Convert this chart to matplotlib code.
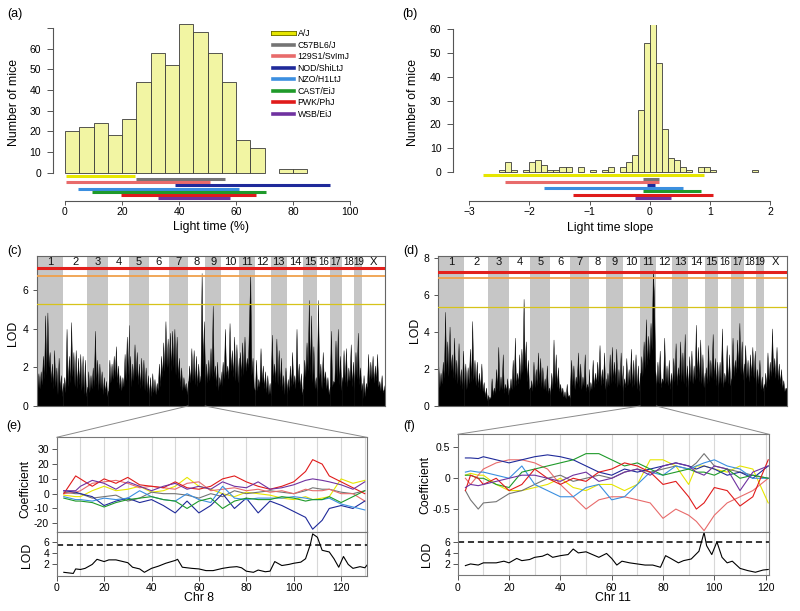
import numpy as np
import matplotlib
matplotlib.use('Agg')
import matplotlib.pyplot as plt
from matplotlib.lines import Line2D
from matplotlib.patches import ConnectionPatch
import matplotlib.patheffects as pe
import matplotlib.transforms as mtrans

plt.rcParams['font.family'] = ['Liberation Sans', 'DejaVu Sans']

# ---------------- data ----------------
strains = ['A/J', 'C57BL6/J', '129S1/SvImJ', 'NOD/ShiLtJ', 'NZO/H1LtJ', 'CAST/EiJ', 'PWK/PhJ', 'WSB/EiJ']
strain_colors = ['#e6e600', '#747474', '#e86b6b', '#1f2a9a', '#3b8fe0', '#1f9a2a', '#e01b1b', '#6f32a0']

# (a) light time histogram, bins of 5 %
a_bin_left = [0, 5, 10, 15, 20, 25, 30, 35, 40, 45, 50, 55, 60, 65, 70, 75, 80]
a_counts = [20, 22, 24, 18, 26, 44, 58, 52, 72, 68, 58, 44, 16, 12, 0, 2, 2]
a_strain_lo = [0.3, 25.0, 0.4, 38.6, 4.6, 9.6, 19.6, 32.5]
a_strain_hi = [24.6, 56.0, 50.7, 93.0, 61.1, 70.4, 66.9, 57.8]

# (b) light time slope histogram, bins of 0.1
b_bin_left = [-2.5, -2.4, -2.3, -2.2, -2.1, -2.0, -1.9, -1.8, -1.7, -1.6, -1.5, -1.4, -1.3, -1.2,
              -1.1, -1.0, -0.9, -0.8, -0.7, -0.6, -0.5, -0.4, -0.3, -0.2, -0.1, 0.0, 0.1, 0.2,
              0.3, 0.4, 0.5, 0.6, 0.7, 0.8, 0.9, 1.0, 1.1, 1.2, 1.3, 1.4, 1.5, 1.6, 1.7]
b_counts = [1, 4, 1, 0, 1, 4, 5, 3, 1, 1, 2, 2, 0, 2,
            0, 1, 0, 1, 2, 0, 2, 4, 7, 26, 54, 62, 46, 18,
            6, 5, 2, 1, 0, 2, 2, 1, 0, 0, 0, 0, 0, 0, 1]
b_strain_lo = [-2.78, -0.11, -2.40, -0.05, -1.75, -0.11, -1.28, -0.25]
b_strain_hi = [0.91, 0.15, 0.15, 0.08, 0.56, 0.85, 1.05, 0.35]

# chromosomes (Mb)
chr_names = ['1', '2', '3', '4', '5', '6', '7', '8', '9', '10', '11', '12', '13', '14', '15',
             '16', '17', '18', '19', 'X']
chr_len = [195.5, 182.1, 160.0, 156.5, 151.8, 149.7, 145.4, 129.4, 124.6, 130.7, 122.1, 120.1,
           120.4, 124.9, 104.0, 98.2, 95.0, 90.7, 61.4, 171.0]

# (c) genome scan for light time (LOD along each chromosome)
c_lod = [
    [0.8, 1.7, 0.9, 1.8, 1.1, 2.6, 1.4, 4.7, 1.6, 4.85, 2.0, 2.8, 1.2, 2.2, 0.9, 2.9, 1.0, 2.0, 0.6, 2.5, 0.8, 1.6, 0.5, 1.2],
    [0.6, 1.5, 0.7, 4.0, 1.0, 2.6, 1.2, 4.35, 1.5, 2.8, 1.0, 2.9, 0.9, 2.5, 1.1, 2.7, 0.8, 2.6, 0.6, 2.4, 0.5, 1.0],
    [0.5, 1.8, 0.7, 1.6, 0.9, 2.0, 1.0, 3.9, 1.1, 2.4, 0.8, 2.2, 0.9, 1.8, 0.6, 1.5, 0.7, 1.3, 0.5, 0.8],
    [0.7, 2.4, 1.2, 2.2, 1.4, 2.6, 1.5, 3.1, 1.2, 2.1, 0.9, 1.6, 0.8, 1.5, 1.0, 2.7, 1.3, 3.6, 1.6, 4.2],
    [1.2, 2.6, 1.0, 2.2, 1.3, 3.2, 1.5, 2.8, 1.1, 2.2, 0.9, 2.5, 1.0, 2.4, 0.8, 2.0, 0.7, 1.6, 0.5],
    [0.6, 1.5, 0.5, 1.7, 0.7, 1.4, 0.6, 1.2, 0.8, 2.2, 1.0, 2.6, 1.5, 3.3, 1.8, 4.4, 2.0, 3.5, 1.6],
    [2.2, 3.8, 1.8, 3.9, 2.0, 4.0, 1.6, 3.6, 1.4, 2.5, 1.0, 2.0, 0.8, 1.5, 0.9, 1.2, 0.6, 1.3],
    [0.9, 2.1, 1.2, 3.0, 1.3, 2.9, 1.1, 2.6, 1.0, 2.2, 1.2, 1.6, 6.9, 2.0, 4.4, 1.5],
    [1.0, 2.2, 1.2, 2.4, 1.3, 3.0, 1.5, 5.2, 1.4, 2.1, 1.0, 2.3, 0.8, 1.5, 1.1, 1.8],
    [1.0, 2.3, 1.4, 4.0, 1.6, 2.1, 1.4, 4.3, 1.8, 2.9, 1.5, 3.6, 1.3, 3.2, 1.2, 2.5],
    [1.2, 2.8, 1.5, 3.3, 1.6, 3.6, 1.8, 2.5, 2.0, 4.6, 6.8, 1.6, 2.5, 1.0, 0.8],
    [0.5, 2.4, 0.8, 1.4, 1.0, 3.0, 1.2, 2.1, 0.9, 1.8, 0.7, 1.6, 0.6, 1.2, 0.5],
    [1.0, 3.7, 1.3, 2.2, 1.2, 3.5, 1.1, 2.9, 1.0, 2.5, 0.8, 1.6, 0.6, 2.0, 0.9],
    [0.6, 1.4, 0.8, 2.1, 1.0, 2.8, 1.1, 1.6, 0.9, 4.0, 1.2, 2.2, 0.9, 1.7, 0.6, 0.9],
    [1.2, 2.4, 1.5, 3.3, 1.8, 5.5, 1.6, 4.7, 1.2, 3.1, 0.9, 1.5, 0.7],
    [1.2, 5.5, 1.4, 2.2, 0.9, 2.8, 1.2, 1.8, 0.9, 1.5, 0.6, 1.0],
    [0.9, 3.9, 1.0, 1.3, 1.2, 3.4, 1.4, 4.0, 1.1, 2.6, 0.8, 1.5],
    [1.0, 2.9, 1.2, 3.0, 1.0, 2.0, 1.3, 3.2, 1.0, 2.3, 0.8],
    [1.2, 2.8, 1.4, 3.8, 1.1, 2.0, 0.8, 1.2],
    [0.3, 1.6, 0.5, 1.2, 0.9, 2.7, 1.2, 2.3, 1.4, 2.6, 1.2, 2.1, 1.3, 2.7, 1.0, 1.3, 0.8, 1.6, 0.7, 0.9, 1.2],
]
c_thresholds = [7.15, 6.75, 5.27]

# (d) genome scan for light time slope
d_lod = [
    [2.2, 1.0, 1.8, 1.2, 2.4, 1.5, 5.1, 1.8, 3.5, 1.6, 4.3, 1.9, 2.8, 1.5, 3.7, 1.4, 2.5, 1.2, 3.4, 1.1, 2.0, 0.9, 3.0, 1.0],
    [1.0, 2.3, 0.9, 2.1, 1.2, 3.1, 1.3, 4.6, 1.4, 2.5, 1.1, 2.4, 1.0, 1.8, 0.9, 2.3, 0.8, 1.3, 0.5, 1.0, 0.3, 0.6],
    [0.3, 0.5, 0.4, 1.5, 0.6, 1.0, 0.7, 2.0, 0.9, 3.2, 0.8, 1.6, 0.9, 2.8, 0.7, 1.2, 0.8, 1.5, 0.6, 1.0],
    [0.8, 1.5, 0.9, 2.5, 1.0, 3.7, 1.1, 1.8, 1.2, 2.8, 1.4, 3.1, 1.8, 5.8, 2.0, 3.5, 1.3, 2.5, 0.9, 1.0],
    [0.9, 1.4, 0.8, 2.4, 1.0, 2.0, 1.1, 2.9, 1.2, 2.6, 1.0, 2.1, 0.9, 1.5, 0.8, 2.2, 0.7, 1.0, 0.6],
    [0.8, 1.8, 0.9, 3.6, 1.2, 2.8, 1.0, 2.1, 0.8, 1.2, 0.7, 1.0, 0.5, 0.8, 0.4, 1.2, 0.5, 0.6, 0.4],
    [1.0, 2.5, 1.1, 2.2, 0.9, 1.6, 1.2, 2.9, 1.0, 2.3, 0.9, 1.6, 1.1, 2.8, 0.8, 1.2, 0.9, 2.0],
    [0.7, 1.3, 0.9, 2.5, 1.0, 1.8, 1.2, 2.4, 1.3, 3.3, 1.1, 2.0, 1.2, 2.9, 0.9, 1.5],
    [0.9, 1.8, 1.1, 2.8, 1.2, 3.2, 1.3, 2.4, 1.2, 3.1, 1.0, 2.0, 1.1, 2.9, 1.0, 2.2],
    [0.8, 1.5, 1.0, 2.6, 1.1, 2.0, 1.2, 3.1, 1.0, 2.5, 1.1, 2.8, 0.9, 2.2, 0.8, 1.8],
    [1.4, 2.7, 1.6, 3.5, 2.0, 4.7, 2.2, 3.8, 2.5, 4.5, 3.0, 7.35, 5.9, 2.0, 1.2],
    [1.0, 2.4, 1.2, 3.0, 1.0, 1.5, 1.3, 3.7, 1.2, 2.2, 1.1, 2.5, 0.9, 1.8, 1.0],
    [1.2, 2.6, 1.3, 3.4, 1.1, 2.1, 1.4, 3.5, 1.3, 2.9, 1.2, 3.9, 1.0, 2.2, 0.9],
    [1.1, 2.7, 1.3, 3.0, 1.2, 2.2, 1.4, 4.4, 1.5, 3.2, 1.3, 3.6, 1.2, 2.8, 1.0, 1.8],
    [1.0, 2.1, 1.2, 3.3, 1.3, 2.5, 1.5, 3.9, 1.4, 2.6, 1.1, 2.4, 1.0],
    [1.1, 2.4, 1.2, 4.2, 1.0, 1.8, 1.3, 3.3, 1.2, 2.8, 1.1, 1.5],
    [1.5, 3.7, 1.6, 2.5, 1.8, 3.6, 2.0, 4.5, 1.7, 3.5, 1.4, 2.3],
    [1.4, 3.3, 1.5, 2.5, 1.3, 2.8, 1.6, 3.2, 1.5, 3.0, 1.2],
    [1.0, 2.0, 1.2, 2.5, 0.9, 1.6, 0.8, 1.2],
    [0.8, 1.8, 1.0, 2.9, 1.4, 2.4, 1.6, 4.2, 1.8, 2.6, 1.5, 3.2, 1.4, 2.3, 1.2, 2.0, 1.0, 1.4, 0.8, 1.0, 0.9],
]
d_thresholds = [7.26, 6.92, 5.38]

# (e) chr 8 founder coefficients (order as strains)
e_pos = [3, 8, 10, 15, 20, 25, 30, 35, 40, 45, 50, 55, 60, 65, 70, 75, 80, 85, 90, 95, 100,
         105, 108, 112, 115, 120, 125, 130]
e_coef = [
    [-1, -2, -2, 2, 5, 2, 3, 5, 1, 2, 5, 11, 5, 3, 0, -2, 1, 0, -1, -3, -4, -2, -4, -3, -2, 10, 7, 9],
    [1, 0, 0, -3, -2, -1, -5, -3, 1, 0, 0, -1, -3, 0, -2, 2, 0, 1, 2, 1, 0, 2, 4, 3, 3, 1, 0, 2],
    [0, 1, 2, 7, 8, 9, 7, 4, 5, 4, 3, 7, 8, 2, 3, 4, 2, 3, 1, 2, 0, 3, 2, 2, 3, 0, 0, -5],
    [2, 1, 0, -2, -8, -5, -3, -6, -4, -8, -13, -5, -13, -8, 0, -10, -3, -13, -5, -8, -12, -16, -24, -18, -10, -8, -10, -5],
    [-2, -4, -4, -5, -3, -4, -3, 2, -2, -4, -5, 0, -4, -6, 5, -3, -4, -3, -3, -3, -2, -3, -4, -4, -3, -7, -9, -11],
    [-3, -5, -5, -6, -9, -6, -4, -3, -2, -4, -5, -10, -5, -3, -10, -5, -3, -4, -4, -2, -3, -5, -4, -4, -2, -6, -2, 2],
    [0, 12, 10, 5, 10, 7, 11, 6, 5, 4, 8, 4, 3, 5, 10, 12, 8, 5, 3, 5, 8, 15, 23, 20, 12, 8, 4, 0],
    [2, 2, 5, 9, 7, 3, 8, 5, 2, 5, 7, 3, 5, 3, 8, 5, 4, 8, 3, 4, 6, 9, 10, 9, 8, 6, 3, 8],
]
e_lod_pos = [3, 5, 7, 8, 10, 12, 15, 17, 20, 22, 25, 27, 30, 32, 35, 37, 40, 43, 46, 50, 51, 53,
             57, 60, 63, 66, 70, 73, 76, 78, 80, 83, 85, 88, 90, 92, 95, 98, 100, 103, 105, 107,
             108, 110, 112, 115, 117, 119, 121, 123, 125, 128, 130, 131]
e_lod = [0.6, 0.5, 0.4, 1.2, 1.1, 1.3, 2.0, 2.9, 2.5, 2.8, 2.8, 2.6, 2.3, 1.5, 1.2, 0.6, 1.3, 1.7,
         2.2, 2.7, 2.9, 1.5, 1.3, 1.2, 0.9, 0.9, 1.3, 1.5, 1.6, 1.4, 0.8, 0.6, 1.0, 0.7, 0.8, 2.5,
         1.8, 2.0, 2.2, 2.4, 3.0, 5.5, 7.4, 6.8, 4.5, 4.2, 3.0, 1.5, 3.4, 2.0, 1.3, 1.6, 1.4, 1.9]
e_threshold = 5.5

# (f) chr 11 founder coefficients
f_pos = [3, 5, 8, 10, 15, 20, 25, 30, 35, 40, 45, 50, 55, 60, 65, 70, 75, 80, 85, 90, 93, 96,
         100, 105, 110, 115, 121]
f_coef = [
    [0.05, 0.08, 0.05, 0.05, -0.1, -0.2, -0.2, -0.15, -0.1, 0.0, -0.15, -0.2, -0.1, -0.1, -0.2, -0.1, 0.3, 0.3, 0.2, -0.1, 0.2, 0.2, 0.15, 0.1, 0.2, 0.15, -0.4],
    [-0.2, -0.35, -0.5, -0.4, -0.38, -0.25, -0.2, -0.1, 0.0, 0.05, -0.05, 0.0, 0.05, 0.0, 0.1, 0.15, 0.1, 0.15, 0.2, 0.15, 0.25, 0.4, 0.2, 0.15, 0.1, 0.05, 0.0],
    [0.0, -0.1, 0.05, 0.15, 0.25, 0.3, 0.3, 0.25, 0.15, -0.1, -0.3, -0.5, -0.35, -0.3, -0.3, -0.35, -0.4, -0.65, -0.5, -0.6, -0.7, -0.85, -0.6, -0.4, -0.3, -0.2, 0.0],
    [0.33, 0.33, 0.32, 0.35, 0.3, 0.25, 0.3, 0.35, 0.38, 0.35, 0.3, 0.2, 0.1, 0.05, 0.15, 0.1, 0.15, 0.2, 0.25, 0.2, 0.15, 0.2, 0.15, 0.05, 0.1, 0.0, 0.2],
    [0.1, 0.12, 0.1, 0.1, 0.05, 0.0, 0.2, -0.1, -0.2, -0.3, -0.3, -0.15, -0.1, -0.35, -0.3, -0.1, 0.1, 0.05, 0.2, 0.15, 0.2, 0.25, 0.3, 0.2, 0.15, 0.0, 0.0],
    [0.05, 0.05, 0.0, 0.0, -0.1, -0.15, 0.1, 0.15, 0.2, 0.25, 0.3, 0.4, 0.4, 0.3, 0.2, 0.25, 0.15, 0.05, 0.1, 0.15, 0.1, 0.1, 0.05, 0.15, 0.0, 0.05, 0.0],
    [-0.2, 0.05, 0.0, -0.1, 0.0, -0.2, -0.1, 0.15, 0.0, -0.1, 0.0, -0.05, 0.1, 0.15, 0.25, 0.2, 0.1, -0.1, -0.05, -0.3, -0.5, -0.4, -0.15, -0.2, -0.45, -0.3, 0.3],
    [-0.15, -0.1, -0.12, -0.1, -0.05, 0.0, 0.05, 0.05, 0.0, -0.05, 0.05, 0.1, -0.05, 0.0, 0.1, 0.15, 0.05, 0.2, 0.25, 0.2, 0.1, 0.05, 0.2, 0.15, -0.2, 0.1, 0.2],
]
f_lod_pos = [3, 5, 8, 10, 15, 18, 20, 23, 25, 28, 30, 33, 35, 37, 40, 43, 45, 47, 50, 52, 55, 58,
             60, 62, 64, 67, 70, 73, 76, 79, 81, 83, 86, 88, 91, 94, 96, 97, 99, 101, 103, 105,
             107, 110, 113, 116, 119, 121]
f_lod = [1.7, 2.0, 1.8, 2.2, 2.2, 2.5, 2.2, 3.0, 2.6, 2.8, 3.2, 3.4, 3.8, 3.2, 3.5, 3.7, 4.7, 4.0,
         4.2, 3.8, 3.2, 3.9, 3.0, 1.8, 2.5, 2.2, 2.0, 1.8, 1.8, 1.4, 3.5, 3.0, 2.2, 2.6, 2.9, 4.3,
         7.7, 5.3, 3.7, 6.0, 3.2, 2.2, 2.5, 1.2, 0.8, 0.5, 0.9, 1.0]
f_threshold = 6.0

# ---------------- drawing ----------------
W, H = 800, 611
fig = plt.figure(figsize=(8, 6.11), dpi=100)
HIST_FC = '#f2f5a3'
HIST_EC = '#3a3a3a'
AX_C = '#555555'


def add_ax(x0, y0, x1, y1):
    return fig.add_axes([x0 / W, 1 - y1 / H, (x1 - x0) / W, (y1 - y0) / H])


def ftext(px, py, s, **kw):
    kw.setdefault('ha', 'center')
    kw.setdefault('va', 'center')
    fig.text(px / W, 1 - py / H, s, **kw)


def r_axes(ax, xb, yb):
    for s in ['top', 'right']:
        ax.spines[s].set_visible(False)
    ax.spines['left'].set_bounds(*yb)
    ax.spines['bottom'].set_bounds(*xb)
    for s in ['left', 'bottom']:
        ax.spines[s].set_color(AX_C)
        ax.spines[s].set_linewidth(0.8)
    ax.tick_params(axis='y', direction='out', length=4, width=0.7, pad=4.5, labelsize=7.5, color=AX_C)
    ax.tick_params(axis='x', direction='out', length=3.2, width=0.7, pad=1.5, labelsize=7.5, color=AX_C)


# ---- (a)
ax = add_ax(53, 20, 360, 200.7)
ax.set_xlim(-4.21, 103.5)
ax.set_ylim(-13.53, 73.8)
al = np.array(a_bin_left, float)
ac = np.array(a_counts, float)
m = ac > 0
ax.bar(al[m], ac[m], width=5, align='edge', color=HIST_FC, edgecolor=HIST_EC, lw=0.6)
for i in range(len(strains)):
    y = -1.5 - 1.55 * i
    ax.plot([a_strain_lo[i], a_strain_hi[i]], [y, y], color=strain_colors[i], lw=2.2,
            solid_capstyle='butt')
r_axes(ax, (0, 100), (0, 70))
ax.set_yticks(range(0, 71, 10))
ax.set_yticklabels([str(v) for v in range(0, 61, 10)] + [''])
ax.set_xticks(range(0, 101, 20))
handles = []
for i, (s, c) in enumerate(zip(strains, strain_colors)):
    if i == 0:
        h = Line2D([], [], color=c, lw=2.4,
                   path_effects=[pe.Stroke(linewidth=3.6, foreground='#6b6b00'), pe.Normal()])
    else:
        h = Line2D([], [], color=c, lw=2.6)
    handles.append(h)
leg = ax.legend(handles, strains, loc='upper left',
                bbox_to_anchor=((270 - 53) / 307, (200.7 - 26) / 180.7),
                frameon=False, fontsize=6.3, handlelength=2.3, handletextpad=0.45,
                labelspacing=0.28, borderaxespad=0)
ftext(14, 102, 'Number of mice', rotation=90, fontsize=8.8)
ftext(211, 227, 'Light time (%)', fontsize=8.8)
ftext(14.5, 14, '(a)', fontsize=9)

# ---- (b)
ax = add_ax(453.3, 25, 790, 200.7)
ax.set_xlim(-3.266, 2.333)
ax.set_ylim(-12.06, 61.76)
bl = np.array(b_bin_left, float)
bc = np.array(b_counts, float)
m = bc > 0
ax.bar(bl[m], bc[m], width=0.1, align='edge', color=HIST_FC, edgecolor=HIST_EC, lw=0.6)
for i in range(len(strains)):
    y = -1.4 - 1.35 * i
    ax.plot([b_strain_lo[i], b_strain_hi[i]], [y, y], color=strain_colors[i], lw=2.2,
            solid_capstyle='butt')
r_axes(ax, (-3, 2), (0, 60))
ax.set_yticks(range(0, 61, 10))
ax.set_xticks([-3, -2, -1, 0, 1, 2])
ftext(413, 102, 'Number of mice', rotation=90, fontsize=8.8)
ftext(610, 228, 'Light time slope', fontsize=8.8)
ftext(410, 14, '(b)', fontsize=9)

# ---- (c), (d) genome scans
starts = np.concatenate([[0.0], np.cumsum(chr_len)[:-1]])
total = float(np.sum(chr_len))


def genome_scan(box, ymax, lods, thr, yticks):
    ax = add_ax(*box)
    ax.set_xlim(0, total)
    ax.set_ylim(0, ymax)
    tr = mtrans.blended_transform_factory(ax.transData, ax.transAxes)
    for i, (nm, st, ln) in enumerate(zip(chr_names, starts, chr_len)):
        if i % 2 == 0 and nm != 'X':
            ax.axvspan(st, st + ln, color='#c6c6c6', lw=0, zorder=0)
        fs = 8 if i < 15 or nm == 'X' else 7
        ax.text(st + ln / 2, 0.958, nm, transform=tr, ha='center', va='center', fontsize=fs,
                color='#111111', zorder=5)
        vals = lods[i]
        x = np.linspace(st, st + ln, len(vals))
        ax.fill_between(x, 0, vals, color='black', lw=0.3, zorder=2)
    ax.axhline(thr[0], color='#e3201c', lw=2.2, zorder=4)
    ax.axhline(thr[1], color='#f0a04b', lw=1.3, zorder=4)
    ax.axhline(thr[2], color='#d6c31a', lw=0.9, zorder=4)
    for s in ax.spines.values():
        s.set_color('#666666')
        s.set_linewidth(0.8)
    ax.set_xticks([])
    ax.set_yticks(yticks)
    ax.tick_params(axis='y', direction='out', length=3, width=0.7, pad=3.5, labelsize=7.5,
                   color='#555555')
    return ax


ax_c = genome_scan((37.3, 256, 385, 406), 7.78, c_lod, c_thresholds, [0, 2, 4, 6])
ftext(13, 333, 'LOD', rotation=90, fontsize=8.8)
ftext(14, 251.5, '(c)', fontsize=9)
ax_d = genome_scan((438.3, 255.7, 786.7, 406), 8.14, d_lod, d_thresholds, [0, 2, 4, 6, 8])
ftext(415, 330, 'LOD', rotation=90, fontsize=8.8)
ftext(410.5, 251.5, '(d)', fontsize=9)


# ---- (e), (f) zoomed chromosomes
def zoom_panel(x0, x1, ytop, ymid, ybot, xmax, coef, pos, ylims, cticks, ctlabels,
               lpos, lod, lthr, lmax):
    axc = add_ax(x0, ytop, x1, ymid)
    axl = add_ax(x0, ymid, x1, ybot)
    for a in (axc, axl):
        a.set_xlim(0, xmax)
        for g in range(10, int(xmax) + 1, 10):
            a.axvline(g, color='#d8d8d8', lw=0.8, zorder=0)
        for s in a.spines.values():
            s.set_color('#777777')
            s.set_linewidth(0.8)
        a.tick_params(direction='out', length=3.5, width=0.7, pad=2, labelsize=7.5, color='#555555')
    for i in range(len(coef)):
        axc.plot(pos, coef[i], color=strain_colors[i], lw=0.8, zorder=2)
    axc.set_ylim(*ylims)
    axc.set_yticks(cticks)
    axc.set_yticklabels(ctlabels)
    axc.set_xticks([])
    axl.plot(lpos, lod, color='black', lw=0.8)
    axl.axhline(lthr, color='black', lw=1.1, ls=(0, (4, 2.5)))
    axl.set_ylim(0, lmax)
    axl.set_yticks([2, 4, 6])
    axl.set_xticks(range(0, int(xmax) + 1, 20))
    return axc, axl


ax_e, ax_el = zoom_panel(56.7, 366.7, 437.3, 532.3, 575.7, 130.8, e_coef, e_pos, (-26.1, 38.1),
                         [-20, -10, 0, 10, 20, 30], ['-20', '-10', '0', '10', '20', '30'],
                         e_lod_pos, e_lod, e_threshold, 7.68)
ftext(25.7, 489, 'Coefficient', rotation=90, fontsize=8.8)
ftext(26.7, 555, 'LOD', rotation=90, fontsize=8.8)
ftext(199, 598, 'Chr 8', fontsize=8.8)
ftext(14, 426.5, '(e)', fontsize=9)

ax_f, ax_fl = zoom_panel(457.7, 769, 434.3, 532.3, 575, 121.3, f_coef, f_pos, (-0.877, 0.714),
                         [-0.5, 0, 0.5], ['-0.5', '0', '0.5'],
                         f_lod_pos, f_lod, f_threshold, 7.73)
ftext(425.7, 485, 'Coefficient', rotation=90, fontsize=8.8)
ftext(426.7, 554, 'LOD', rotation=90, fontsize=8.8)
ftext(613, 598, 'Chr 11', fontsize=8.8)
ftext(409.5, 426, '(f)', fontsize=9)

# connector lines from scans to zoomed panels
for ax_scan, ax_z, ci in ((ax_c, ax_e, 7), (ax_d, ax_f, 10)):
    ztop = ax_z.get_ylim()[1]
    zx = ax_z.get_xlim()
    for xa, xb in ((starts[ci], zx[0]), (starts[ci] + chr_len[ci], zx[1])):
        cp = ConnectionPatch(xyA=(xa, 0), coordsA=ax_scan.transData,
                             xyB=(xb, ztop), coordsB=ax_z.transData,
                             color='#8a8a8a', lw=0.7)
        fig.add_artist(cp)

fig.savefig('out.png', dpi=100)
